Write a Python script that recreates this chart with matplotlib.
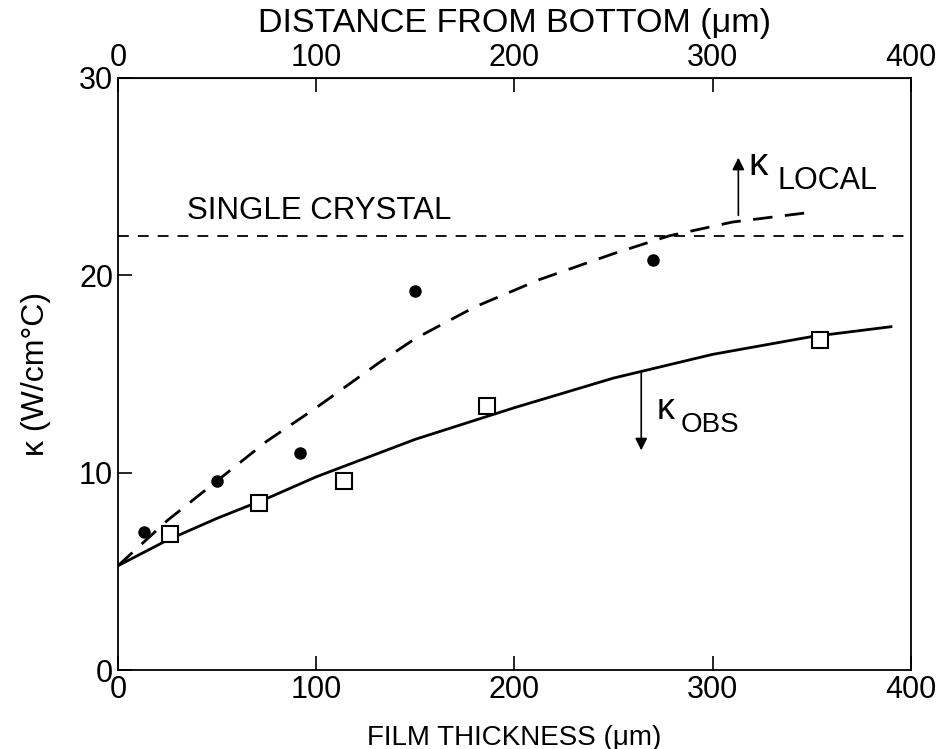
import matplotlib
matplotlib.use("Agg")
import matplotlib.pyplot as plt

plt.rcParams['font.family'] = ['Liberation Sans', 'DejaVu Sans']

# Data
local_x = [13, 50, 92, 150, 270]
local_y = [7.0, 9.6, 11.0, 19.2, 20.8]
obs_x = [26, 71, 114, 186, 354]
obs_y = [6.9, 8.45, 9.6, 13.4, 16.75]

obs_curve_x = [0, 25, 50, 75, 100, 150, 200, 250, 300, 350, 390]
obs_curve_y = [5.3, 6.6, 7.7, 8.7, 9.8, 11.7, 13.3, 14.8, 16.0, 16.9, 17.4]

local_curve_x = [0, 25, 50, 75, 100, 132, 150, 180, 213, 250, 278, 310, 350]
local_curve_y = [5.3, 7.6, 9.6, 11.6, 13.3, 15.6, 16.8, 18.4, 19.8, 21.1, 22.0, 22.7, 23.2]

single_crystal = 22.0
x_ticks = [0, 100, 200, 300, 400]
y_ticks = [0, 10, 20, 30]

fig = plt.figure(figsize=(9.37, 7.49), dpi=100)
ax = fig.add_axes([0.126, 0.105, 0.846, 0.791])

ax.axhline(single_crystal, color='black', lw=1.3, dashes=(6, 5))
ax.plot(obs_curve_x, obs_curve_y, color='black', lw=2.0)
ax.plot(local_curve_x, local_curve_y, color='black', lw=2.0, dashes=(7, 4.5))
ax.plot(local_x, local_y, 'o', color='black', ms=8)
ax.plot(obs_x, obs_y, 's', mfc='white', mec='black', mew=1.5, ms=12)

ax.set_xlim(0, 400)
ax.set_ylim(0, 30)
ax.set_xticks(x_ticks)
ax.set_yticks(y_ticks)
ax.tick_params(direction='in', length=10, width=1.2, labelsize=22, top=False, right=False)
for s in ax.spines.values():
    s.set_linewidth(1.3)

ax.set_xlabel('FILM THICKNESS (μm)', fontsize=20, labelpad=14)
ax.set_ylabel('κ (W/cm°C)', fontsize=23, labelpad=20)

top = ax.secondary_xaxis('top')
top.set_xticks(x_ticks)
top.tick_params(direction='in', length=10, width=1.2, labelsize=22)
top.set_xlabel('DISTANCE FROM BOTTOM (μm)', fontsize=24.5, labelpad=8)

ax.text(35, 22.5, 'SINGLE CRYSTAL', fontsize=22.5, ha='left', va='bottom')

ax.annotate('', xy=(313, 26.1), xytext=(313, 22.9),
            arrowprops=dict(arrowstyle='-|>', color='black', lw=1.2, mutation_scale=18))
ax.text(318, 25.6, 'κ', fontsize=28, ha='left', va='center')
ax.text(333, 24.8, 'LOCAL', fontsize=22, ha='left', va='center')

ax.annotate('', xy=(264, 11.0), xytext=(264, 15.2),
            arrowprops=dict(arrowstyle='-|>', color='black', lw=1.2, mutation_scale=18))
ax.text(272, 13.2, 'κ', fontsize=26, ha='left', va='center')
ax.text(284, 12.4, 'OBS', fontsize=20, ha='left', va='center')

fig.savefig('out.png', dpi=100)
